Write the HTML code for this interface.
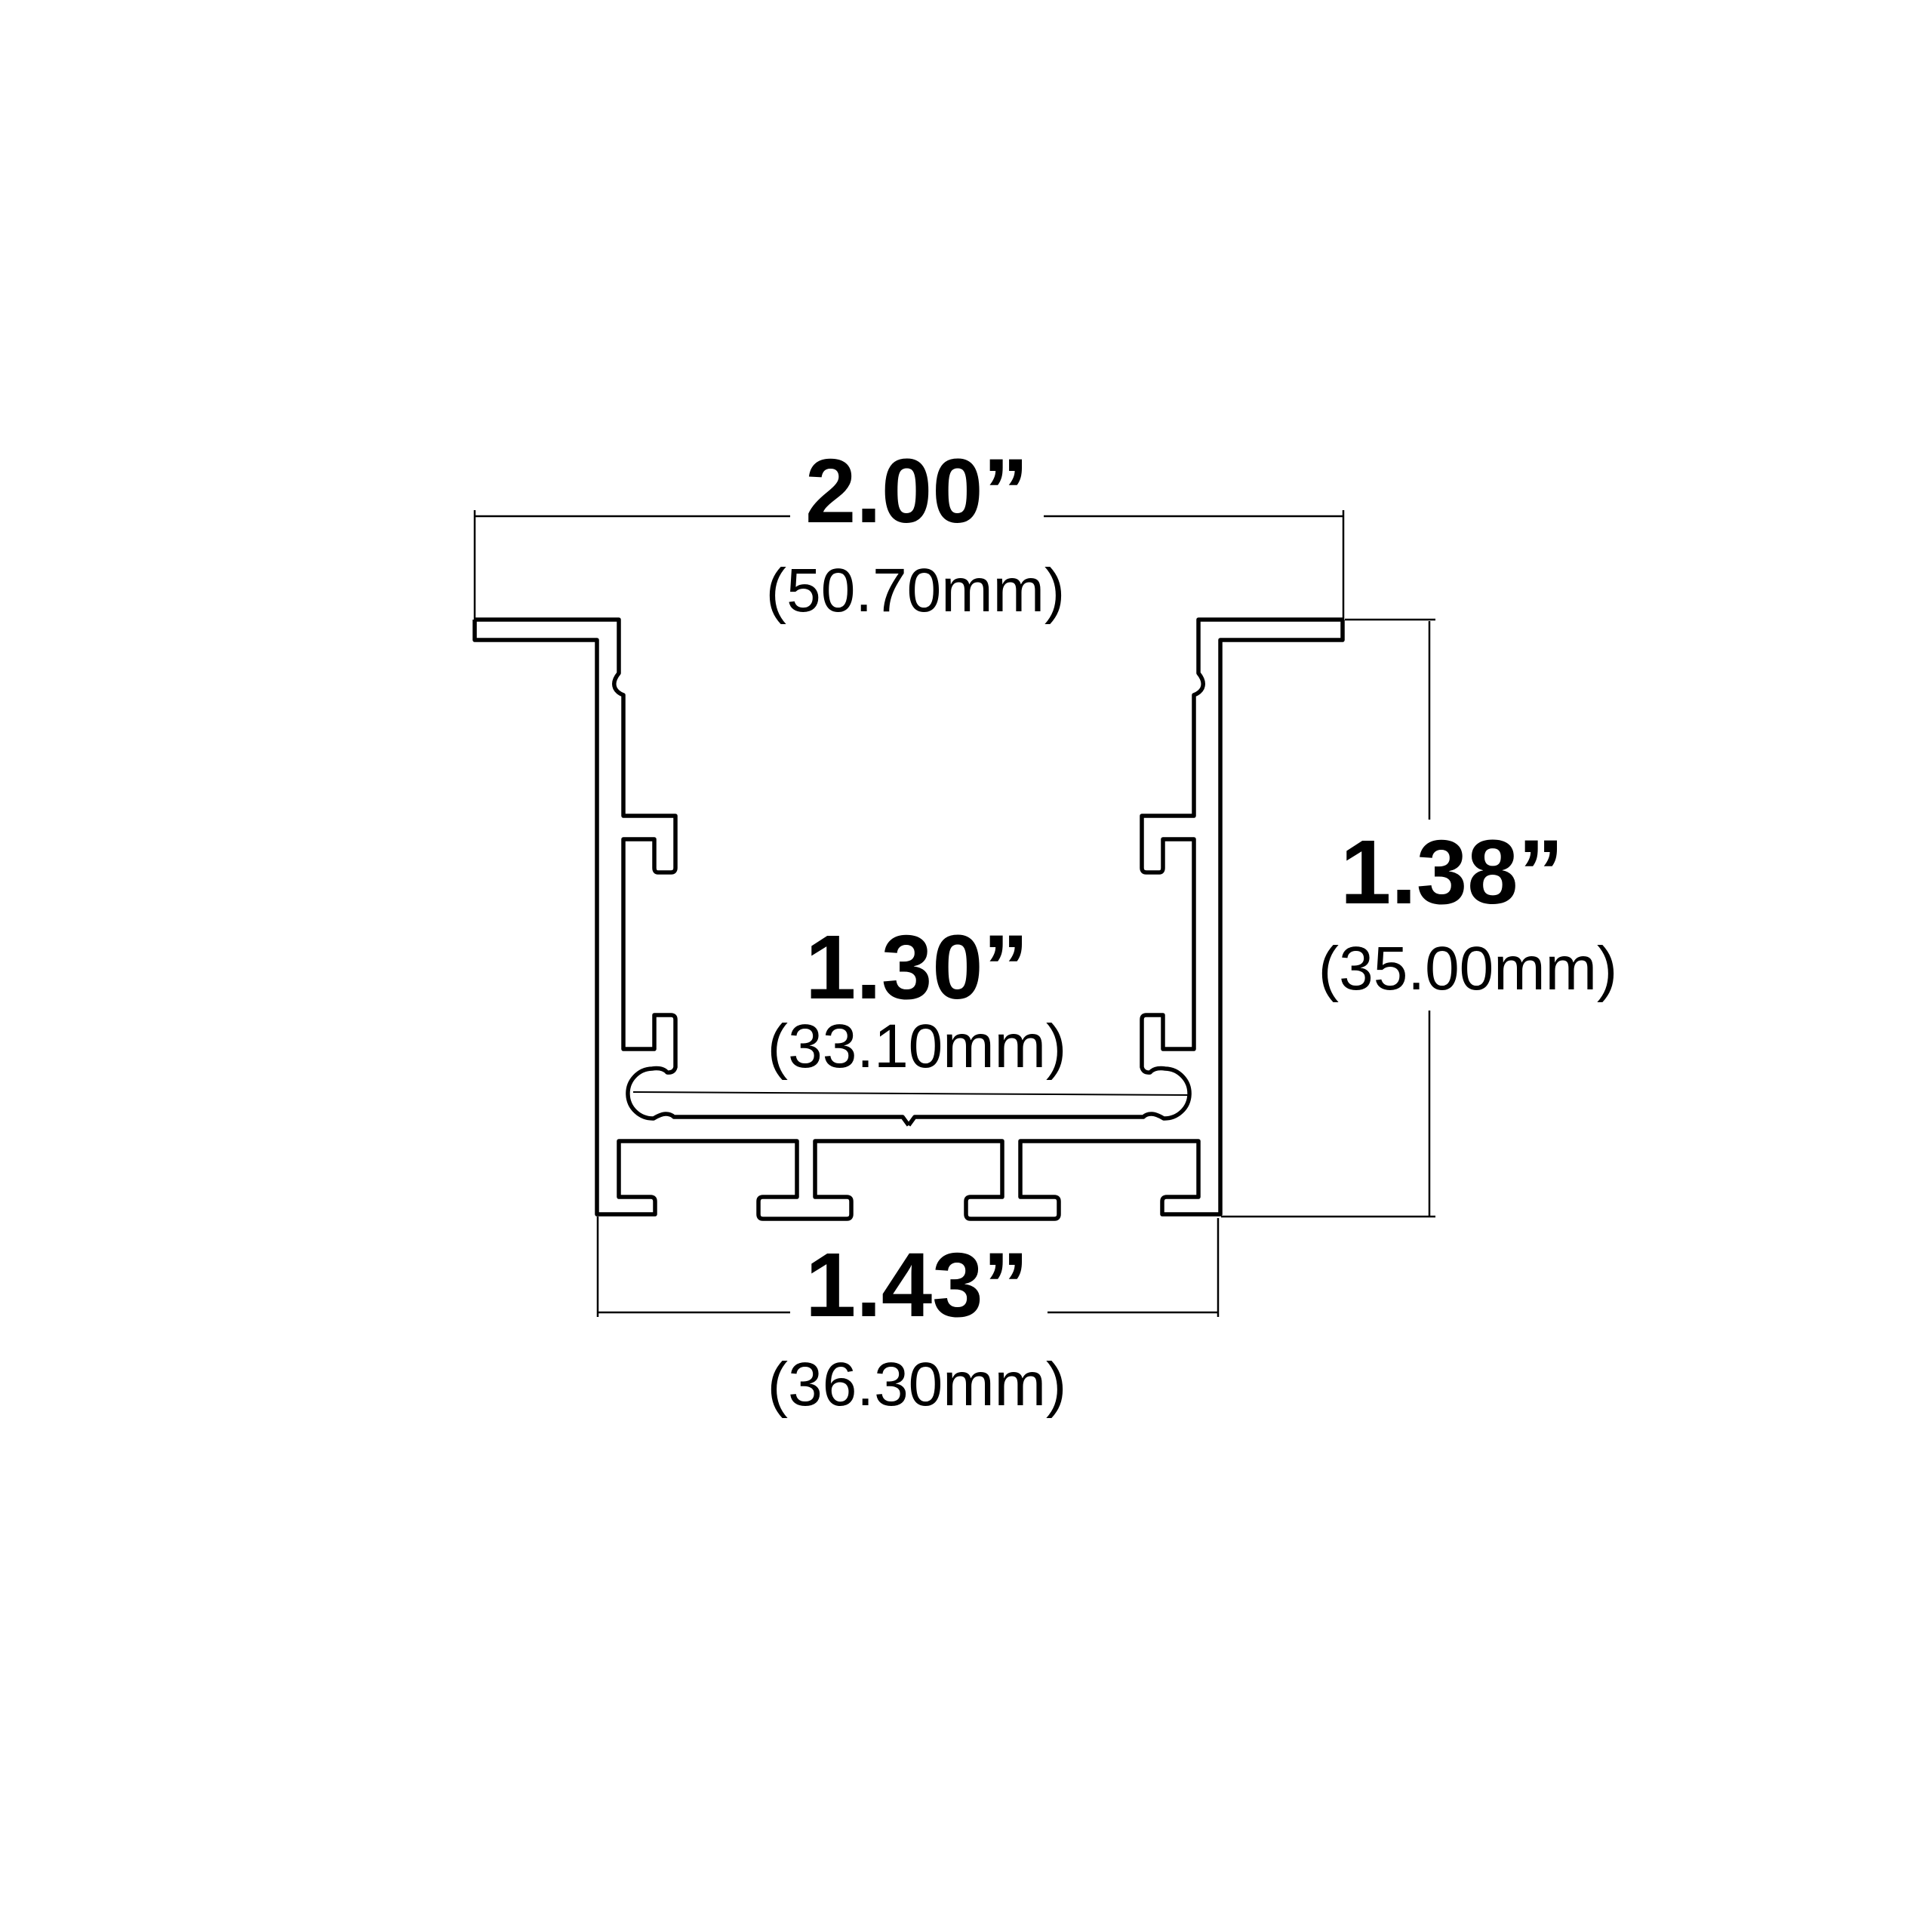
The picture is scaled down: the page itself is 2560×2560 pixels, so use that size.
<!DOCTYPE html>
<html><head><meta charset="utf-8"><style>html,body{margin:0;padding:0;background:#fff}svg{display:block}</style></head>
<body>
<svg width="2560" height="2560" viewBox="0 0 2560 2560" xmlns="http://www.w3.org/2000/svg">
<rect width="2560" height="2560" fill="#fff"/>
<g id="half" fill="none" stroke="#000" stroke-width="5.5" stroke-linejoin="round">
  <path d="M629,821 L820,821 L820,892 Q811,903 815,912 Q818,918 826,921 L826,1081 L895,1081 L895,1150 Q895,1156 889,1156 L872,1156 Q867,1156 867,1150 L867,1112 L826,1112 L826,1390 L867,1390 L867,1345 L889,1345 Q895,1345 895,1351 L895,1414 Q893,1422 884,1421 Q878,1414 864,1416 A33,33 0 1 0 866,1482 Q876,1476 882,1476 Q889,1476 893,1480 L1196,1480 L1204,1491"/>
  <path d="M1204,1512 L1080,1512 L1080,1586 L1122,1586 Q1128,1586 1128,1592 L1128,1609 Q1128,1615 1122,1615 L1011,1615 Q1005,1615 1005,1609 L1005,1592 Q1005,1586 1011,1586 L1056,1586 L1056,1512 L820,1512 L820,1586 L862,1586 Q868,1586 868,1592 L868,1609 L791,1609 L791,848 L629,848 L629,821"/>
</g>
<use href="#half" transform="translate(2408,0) scale(-1,1)"/>
<g stroke="#000" stroke-width="2.5" fill="none">
  <line x1="629" y1="684" x2="1047" y2="684"/>
  <line x1="1383" y1="684" x2="1780" y2="684"/>
  <line x1="629" y1="676" x2="629" y2="821"/>
  <line x1="1780" y1="676" x2="1780" y2="821"/>
  <line x1="1894" y1="823" x2="1894" y2="1086"/>
  <line x1="1894" y1="1339" x2="1894" y2="1611"/>
  <line x1="1782" y1="821" x2="1902" y2="821"/>
  <line x1="1618" y1="1612" x2="1902" y2="1612"/>
  <line x1="792" y1="1739" x2="1047" y2="1739"/>
  <line x1="1388" y1="1739" x2="1614" y2="1739"/>
  <line x1="792" y1="1612" x2="792" y2="1745"/>
  <line x1="1614" y1="1614" x2="1614" y2="1745"/>
  <line x1="839" y1="1447" x2="1575" y2="1451" stroke-width="2"/>
</g>
<g font-family="'Liberation Sans', sans-serif" text-anchor="middle" fill="#000">
  <text x="1215" y="692" font-size="121" font-weight="bold">2.00”</text>
  <text x="1213" y="810" font-size="82">(50.70mm)</text>
  <text x="1215" y="1323" font-size="121" font-weight="bold">1.30”</text>
  <text x="1215" y="1414" font-size="82">(33.10mm)</text>
  <text x="1924" y="1197" font-size="121" font-weight="bold">1.38”</text>
  <text x="1945" y="1311" font-size="82">(35.00mm)</text>
  <text x="1215" y="1744" font-size="121" font-weight="bold">1.43”</text>
  <text x="1215" y="1862" font-size="82">(36.30mm)</text>
</g>
</svg>
</body></html>
